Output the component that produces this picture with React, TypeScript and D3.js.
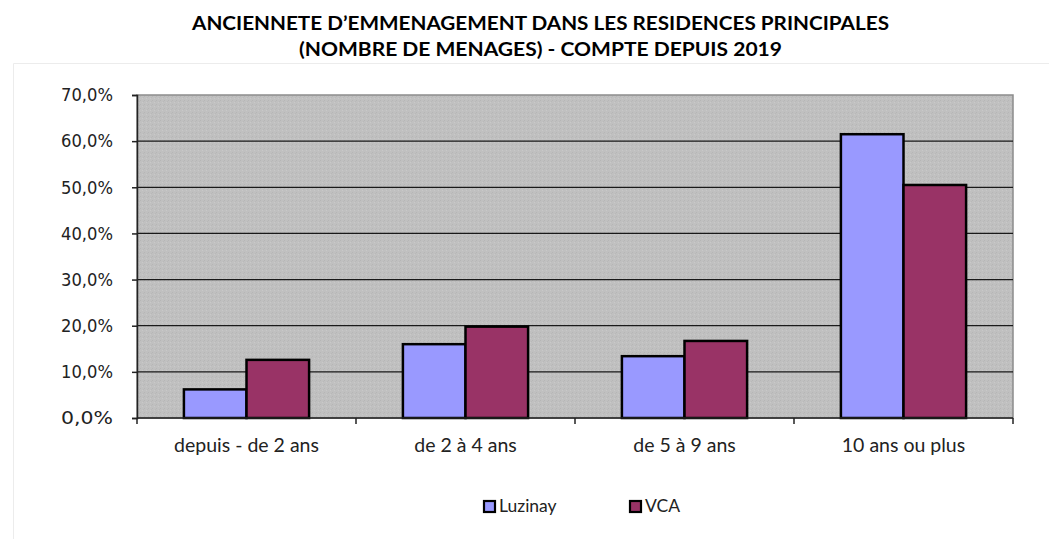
import { useEffect, useRef } from 'react';
import * as d3 from 'd3';

const categories = ['depuis - de 2 ans', 'de 2 à 4 ans', 'de 5 à 9 ans', '10 ans ou plus'];
const seriesNames = ['Luzinay', 'VCA'];
const luzinay = [6.2, 16.0, 13.4, 61.5];
const vca = [12.6, 19.8, 16.7, 50.5];
const colors = ['#9999FF', '#993366'];
const yTicks = [0, 10, 20, 30, 40, 50, 60, 70];
const titleLines = [
  'ANCIENNETE D\u2019EMMENAGEMENT DANS LES RESIDENCES PRINCIPALES',
  '(NOMBRE DE MENAGES) - COMPTE DEPUIS 2019',
];

const W = 1049;
const H = 539;

const App = () => {
  const svgRef = useRef<SVGSVGElement>(null);

  useEffect(() => {
    const svg = d3.select(svgRef.current);
    svg.selectAll('*').remove();

    const left = 137;
    const right = 1013;
    const top = 95;
    const bottom = 418;

    // title
    svg.selectAll('text.title')
      .data(titleLines)
      .enter()
      .append('text')
      .attr('class', 'title')
      .attr('x', 540.5)
      .attr('y', (d, i) => 29.5 + i * 26)
      .attr('text-anchor', 'middle')
      .attr('font-family', 'Lato, "Open Sans", sans-serif')
      .attr('font-weight', 'bold')
      .attr('font-size', 19.5)
      .attr('fill', '#000')
      .attr('textLength', (d, i) => (i === 0 ? 697 : 483))
      .attr('lengthAdjust', 'spacingAndGlyphs')
      .text(d => d);

    // faint chart frame
    svg.append('path')
      .attr('d', `M13.5,${H} V63.5 H${W}`)
      .attr('fill', 'none')
      .attr('stroke', '#ececec');

    const x = d3.scaleBand().domain(categories).range([left, right]).paddingInner(0).paddingOuter(0);
    const y = d3.scaleLinear().domain([0, 70]).range([bottom, top]);

    const defs = svg.append('defs');
    const pat = defs.append('pattern')
      .attr('id', 'tex')
      .attr('width', 4).attr('height', 4)
      .attr('patternUnits', 'userSpaceOnUse');
    pat.append('rect').attr('width', 4).attr('height', 4).attr('fill', '#c0c0c0');
    pat.append('rect').attr('x', 0).attr('y', 0).attr('width', 1).attr('height', 1).attr('fill', '#b6b6b6');
    pat.append('rect').attr('x', 2).attr('y', 2).attr('width', 1).attr('height', 1).attr('fill', '#c9c9c9');
    pat.append('rect').attr('x', 3).attr('y', 1).attr('width', 1).attr('height', 1).attr('fill', '#b9b9b9');

    // plot area
    svg.append('rect')
      .attr('x', left).attr('y', top)
      .attr('width', right - left).attr('height', bottom - top)
      .attr('fill', 'url(#tex)')
      .attr('stroke', '#8c8c8c')
      .attr('stroke-width', 1.5);

    // gridlines
    svg.append('g')
      .selectAll('line')
      .data(yTicks.filter(t => t > 0 && t < 70))
      .enter()
      .append('line')
      .attr('x1', left).attr('x2', right)
      .attr('y1', d => y(d)).attr('y2', d => y(d))
      .attr('stroke', '#1a1a1a')
      .attr('stroke-width', 1.3);

    // bars
    const inner = 62.6;
    const groupW = inner * 2;
    const series = [luzinay, vca];
    series.forEach((vals, si) => {
      svg.append('g')
        .selectAll('rect')
        .data(vals)
        .enter()
        .append('rect')
        .attr('x', (d, i) => x(categories[i])! + (x.bandwidth() - groupW) / 2 + si * inner)
        .attr('y', d => y(d))
        .attr('width', inner)
        .attr('height', d => bottom - y(d))
        .attr('fill', colors[si])
        .attr('stroke', '#000')
        .attr('stroke-width', 2.5);
    });

    // y axis
    const yAxis = svg.append('g')
      .attr('transform', `translate(${left},0)`)
      .call(d3.axisLeft(y).tickValues(yTicks).tickSize(5).tickPadding(19)
        .tickFormat(d => d3.format('.1f')(d as number).replace('.', ',') + '%'));
    yAxis.select('.domain').attr('stroke', '#222').attr('stroke-width', 1.5);
    yAxis.selectAll('.tick line').attr('stroke', '#222').attr('stroke-width', 1.5);
    yAxis.selectAll('.tick text')
      .attr('font-family', '"DejaVu Sans", Verdana, sans-serif')
      .attr('font-size', 18)
      .attr('fill', '#222')
      .attr('textLength', 52)
      .attr('lengthAdjust', 'spacingAndGlyphs');

    // x axis
    const xAxis = svg.append('g')
      .attr('transform', `translate(0,${bottom})`);
    xAxis.append('line')
      .attr('x1', left).attr('x2', right)
      .attr('stroke', '#222').attr('stroke-width', 1.5);
    xAxis.selectAll('line.tk')
      .data(d3.range(categories.length + 1))
      .enter()
      .append('line')
      .attr('class', 'tk')
      .attr('x1', i => left + i * x.bandwidth())
      .attr('x2', i => left + i * x.bandwidth())
      .attr('y1', 0).attr('y2', 6)
      .attr('stroke', '#222').attr('stroke-width', 1.5);
    xAxis.selectAll('text')
      .data(categories)
      .enter()
      .append('text')
      .attr('x', d => x(d)! + x.bandwidth() / 2)
      .attr('y', 33.5)
      .attr('text-anchor', 'middle')
      .attr('font-family', 'Lato, "Open Sans", sans-serif')
      .attr('font-size', 19.5)
      .attr('fill', '#222')
      .text(d => d);

    // legend
    const legendX = [484, 630];
    const legend = svg.append('g');
    seriesNames.forEach((name, i) => {
      legend.append('rect')
        .attr('x', legendX[i]).attr('y', 501)
        .attr('width', 11).attr('height', 11)
        .attr('fill', colors[i])
        .attr('stroke', '#000').attr('stroke-width', 2.2);
      legend.append('text')
        .attr('x', legendX[i] + 15).attr('y', 512)
        .attr('font-family', 'Lato, "Open Sans", sans-serif')
        .attr('font-size', 17.5)
        .attr('fill', '#222')
        .text(name);
    });
  }, []);

  return (
    <svg ref={svgRef} width={W} height={H}
      style={{ position: 'absolute', left: 0, top: 0, background: '#fff' }} />
  );
};

export default App;
